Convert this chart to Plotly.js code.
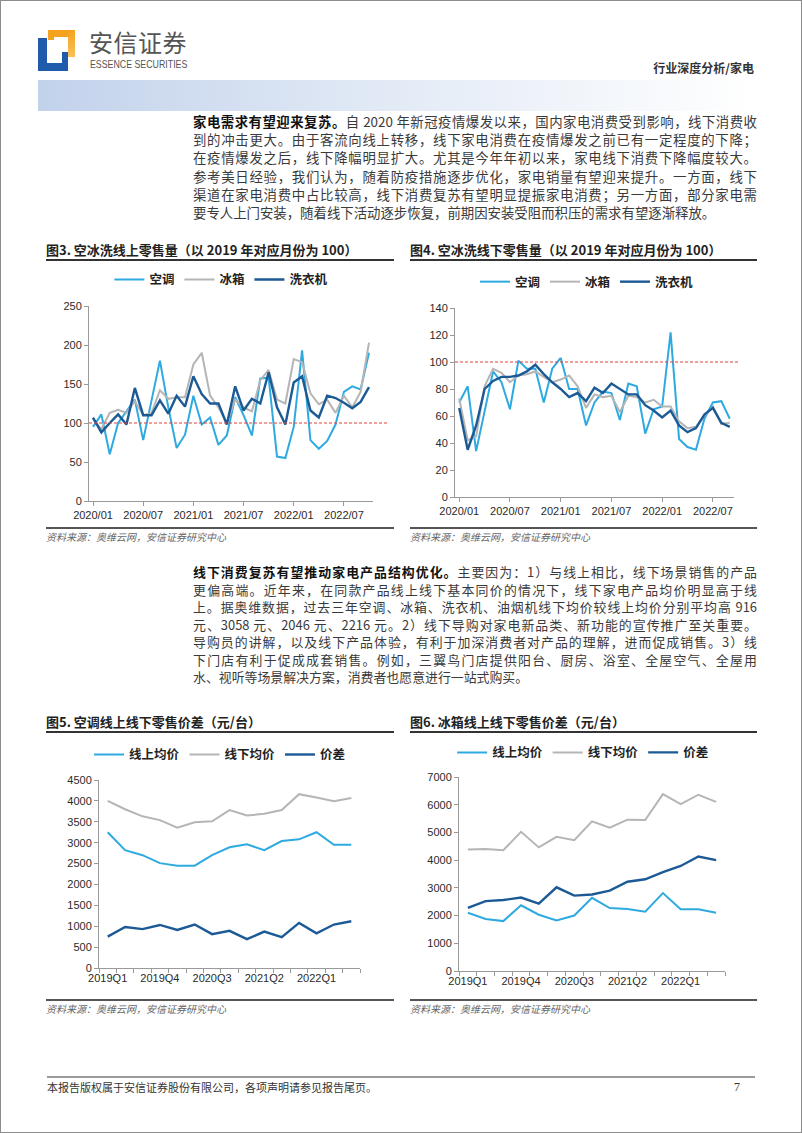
<!DOCTYPE html>
<html>
<head>
<meta charset="utf-8">
<script src="https://cdn.plot.ly/plotly-3.0.1.min.js"></script>
<style>
  html, body { margin: 0; padding: 0; background: #fff; }
  #page { position: relative; width: 802px; height: 1133px; overflow: hidden;
          font-family: "Noto Sans CJK SC", "Noto Sans", sans-serif; color: #333; }
  #frame { position: absolute; left: 0; top: 0; width: 800px; height: 1131px; border: 1px solid #8c8c8c; }
  .abs { position: absolute; }
  .ln { position: absolute; left: 193px; width: 564px; height: 18px; line-height: 18px; font-size: 13.4px;
        text-align: justify; text-align-last: justify; white-space: nowrap; color: #3a3a3a; }
  .p2 .ln { height: 17px; line-height: 17px; font-size: 12.9px; }
  .ln.last { text-align-last: left; }
  .ln b { color: #111; }
  .ctitle { position: absolute; height: 19px; line-height: 19px; font-size: 13px; font-weight: bold; color: #222;
            border-bottom: 2px solid #333; white-space: nowrap; }
  .src { position: absolute; height: 14px; border-top: 2px solid #555; font-size: 10px; font-style: italic;
         color: #666; line-height: 15px; }
  .chart { position: absolute; }
</style>
</head>
<body>
<div id="page">
  <div id="frame"></div>

  <!-- logo -->
  <div class="abs" style="left:48px;top:30px;width:27px;height:7px;background:#f5a21f"></div>
  <div class="abs" style="left:68px;top:30px;width:7px;height:27px;background:linear-gradient(#f5a21f,#f8c15a)"></div>
  <div class="abs" style="left:48px;top:30px;width:6px;height:10px;background:#f5a21f"></div>
  <div class="abs" style="left:38px;top:38px;width:9px;height:33px;background:#1f5baa"></div>
  <div class="abs" style="left:38px;top:63px;width:30px;height:8px;background:#1f5baa"></div>
  <div class="abs" style="left:62px;top:52px;width:6px;height:19px;background:#1f5baa"></div>
  <div class="abs" style="left:89px;top:29px;font-size:24px;line-height:26px;color:#555;letter-spacing:0.5px">安信证券</div>
  <div class="abs" style="left:90px;top:58px;font-size:11px;line-height:12px;color:#555;font-family:'Liberation Sans',sans-serif;transform:scaleX(0.8);transform-origin:0 0;white-space:nowrap">ESSENCE SECURITIES</div>
  <div class="abs" style="left:640px;width:114px;top:60px;font-size:12px;line-height:16px;font-weight:bold;color:#333;text-align:right">行业深度分析/家电</div>
  <div class="abs" style="left:38px;top:80px;width:719px;height:31px;background:linear-gradient(to right,#c2d2eb,#e6edf7 55%,#ffffff)"></div>

  <!-- paragraph 1 -->
  <div class="ln" style="top:112px"><b>家电需求有望迎来复苏。</b>自 2020 年新冠疫情爆发以来，国内家电消费受到影响，线下消费收</div>
  <div class="ln" style="top:130px">到的冲击更大。由于客流向线上转移，线下家电消费在疫情爆发之前已有一定程度的下降；</div>
  <div class="ln" style="top:148px">在疫情爆发之后，线下降幅明显扩大。尤其是今年年初以来，家电线下消费下降幅度较大。</div>
  <div class="ln" style="top:167px">参考美日经验，我们认为，随着防疫措施逐步优化，家电销量有望迎来提升。一方面，线下</div>
  <div class="ln" style="top:185px">渠道在家电消费中占比较高，线下消费复苏有望明显提振家电消费；另一方面，部分家电需</div>
  <div class="ln last" style="top:203px">要专人上门安装，随着线下活动逐步恢复，前期因安装受阻而积压的需求有望逐渐释放。</div>

  <!-- figure 3 / 4 -->
  <div class="ctitle" style="left:46px;top:240px;width:348px">图3. 空冰洗线上零售量（以 2019 年对应月份为 100）</div>
  <div class="ctitle" style="left:410px;top:240px;width:347px">图4. 空冰洗线下零售量（以 2019 年对应月份为 100）</div>
  <div id="fig3" class="chart" style="left:46px;top:265px"></div>
  <div id="fig4" class="chart" style="left:410px;top:265px"></div>
  <div class="src" style="left:46px;top:527px;width:348px">资料来源：奥维云网，安信证券研究中心</div>
  <div class="src" style="left:410px;top:527px;width:347px">资料来源：奥维云网，安信证券研究中心</div>

  <!-- paragraph 2 -->
  <div class="p2">
  <div class="ln" style="top:563px"><b>线下消费复苏有望推动家电产品结构优化。</b>主要因为：1）与线上相比，线下场景销售的产品</div>
  <div class="ln" style="top:580.5px">更偏高端。近年来，在同款产品线上线下基本同价的情况下，线下家电产品均价明显高于线</div>
  <div class="ln" style="top:598px">上。据奥维数据，过去三年空调、冰箱、洗衣机、油烟机线下均价较线上均价分别平均高 916</div>
  <div class="ln" style="top:615.5px">元、3058 元、2046 元、2216 元。2）线下导购对家电新品类、新功能的宣传推广至关重要。</div>
  <div class="ln" style="top:633px">导购员的讲解，以及线下产品体验，有利于加深消费者对产品的理解，进而促成销售。3）线</div>
  <div class="ln" style="top:650.5px">下门店有利于促成成套销售。例如，三翼鸟门店提供阳台、厨房、浴室、全屋空气、全屋用</div>
  <div class="ln last" style="top:668px">水、视听等场景解决方案，消费者也愿意进行一站式购买。</div>
  </div>

  <!-- figure 5 / 6 -->
  <div class="ctitle" style="left:46px;top:712px;width:348px">图5. 空调线上线下零售价差（元/台）</div>
  <div class="ctitle" style="left:410px;top:712px;width:347px">图6. 冰箱线上线下零售价差（元/台）</div>
  <div id="fig5" class="chart" style="left:46px;top:735px"></div>
  <div id="fig6" class="chart" style="left:410px;top:735px"></div>
  <div class="src" style="left:46px;top:999px;width:348px">资料来源：奥维云网，安信证券研究中心</div>
  <div class="src" style="left:410px;top:999px;width:347px">资料来源：奥维云网，安信证券研究中心</div>

  <!-- footer -->
  <div class="abs" style="left:47px;top:1076px;width:708px;height:0;border-top:2px solid #9a9a9a"></div>
  <div class="abs" style="left:47px;top:1080px;font-size:11px;line-height:15px;color:#333">本报告版权属于安信证券股份有限公司，各项声明请参见报告尾页。</div>
  <div class="abs" style="left:734px;top:1080px;font-size:12px;line-height:15px;color:#333;font-family:'Liberation Serif',serif">7</div>
</div>

<script>
// 月度数据 2020/01 - 2022/10（以2019年对应月份为100）
const MONTHS = ['2020/01','2020/02','2020/03','2020/04','2020/05','2020/06','2020/07','2020/08','2020/09','2020/10','2020/11','2020/12',
                '2021/01','2021/02','2021/03','2021/04','2021/05','2021/06','2021/07','2021/08','2021/09','2021/10','2021/11','2021/12',
                '2022/01','2022/02','2022/03','2022/04','2022/05','2022/06','2022/07','2022/08','2022/09','2022/10'];
const MONTH_TICKS = ['2020/01','2020/07','2021/01','2021/07','2022/01','2022/07'];

// 图3 线上
const ONLINE_AC     = [95,111,60,100,115,130,78,130,180,120,68,85,135,98,107,72,84,133,110,84,157,158,57,55,95,193,78,67,77,98,140,147,143,190];
const ONLINE_FRIDGE = [105,92,113,117,113,128,110,113,142,131,133,133,175,190,135,120,100,130,120,115,155,168,130,125,182,178,138,124,130,113,135,120,140,203];
const ONLINE_WASHER = [107,88,100,111,98,145,110,110,129,112,135,121,160,137,125,125,98,147,116,131,125,165,120,98,152,160,116,107,135,132,126,119,127,146];

// 图4 线下（到 2022/09）
const OFFLINE_AC     = [70,82,34,63,93,85,65,101,95,95,70,95,103,80,80,53,70,78,77,57,84,82,47,65,67,122,43,37,35,58,70,71,58];
const OFFLINE_FRIDGE = [73,42,45,82,95,92,85,90,91,93,89,85,87,90,82,66,76,74,75,63,75,74,70,72,67,67,56,51,52,60,67,54,55];
const OFFLINE_WASHER = [66,35,53,80,86,89,89,90,93,98,91,85,80,74,77,71,81,77,84,80,76,76,68,64,59,64,53,48,51,61,66,55,52];

const BASELINE = 100;

// 季度价差 2019Q1 - 2022Q3（元/台）
const QUARTERS = ['2019Q1','2019Q2','2019Q3','2019Q4','2020Q1','2020Q2','2020Q3','2020Q4',
                  '2021Q1','2021Q2','2021Q3','2021Q4','2022Q1','2022Q2','2022Q3'];
const QUARTER_LABELS = ['2019Q1','','','2019Q4','','','2020Q3','','','2021Q2','','','2022Q1','',''];

const AC_ONLINE_PRICE  = [3250,2820,2700,2510,2450,2450,2700,2890,2960,2820,3040,3080,3250,2950,2950];
const AC_OFFLINE_PRICE = [4000,3800,3630,3540,3360,3490,3510,3780,3650,3690,3780,4160,4080,3990,4070];
const AC_GAP           = [750,980,930,1030,910,1040,810,890,690,870,740,1080,830,1040,1120];

const FR_ONLINE_PRICE  = [2100,1880,1800,2370,2030,1820,2000,2640,2270,2240,2140,2810,2230,2230,2100];
const FR_OFFLINE_PRICE = [4380,4400,4360,5020,4460,4840,4720,5400,5170,5460,5450,6380,6020,6360,6100];
const FR_GAP           = [2280,2520,2560,2650,2430,3020,2720,2760,2900,3220,3310,3570,3790,4130,4000];

const C_LIGHT = '#2eaae1';
const C_GRAY  = '#b5b5b5';
const C_DARK  = '#1c5a96';
const AXIS = '#9a9a9a';
const TICKFONT = { family: 'Liberation Sans, Arial, sans-serif', size: 11, color: '#2a2a2a' };
const LEGFONT  = { family: 'Noto Sans CJK SC, sans-serif', size: 12.5, color: '#222', weight: 'bold' };

// 画一张折线图；图例用 container 坐标，不挤占绘图区
function drawLines(elId, cats, series, o) {
  const traces = series.map(s => ({
    x: cats, y: s.values, name: s.name, type: 'scatter', mode: 'lines',
    line: { color: s.color, width: s.width || 2 }, hoverinfo: 'skip',
  }));
  const layout = {
    width: o.w, height: o.h,
    margin: o.margin,
    showlegend: true,
    legend: { orientation: 'h', xref: 'container', yref: 'container', x: o.legX, xanchor: 'center',
              y: o.legY, yanchor: 'middle', font: LEGFONT, itemwidth: 30,
              bgcolor: 'rgba(0,0,0,0)', traceorder: 'normal' },
    xaxis: {
      type: 'category', range: o.xRange, tickmode: 'array', tickvals: o.tickvals, ticktext: o.ticktext,
      ticks: 'outside', ticklen: 4, tickcolor: AXIS, showline: true, linecolor: AXIS, linewidth: 1,
      showgrid: false, zeroline: false, tickfont: TICKFONT, tickangle: 0, tickson: o.tickson || 'labels',
      automargin: false,
    },
    yaxis: {
      range: o.yRange, tick0: 0, dtick: o.dtick, ticks: 'outside', ticklen: 4, tickcolor: AXIS,
      showline: true, linecolor: AXIS, linewidth: 1, showgrid: false, zeroline: false, tickfont: TICKFONT,
      automargin: false,
    },
    shapes: o.shapes || [],
    plot_bgcolor: '#ffffff',
    paper_bgcolor: 'rgba(0,0,0,0)',
  };
  Plotly.newPlot(elId, traces, layout, { displayModeBar: false, staticPlot: true });
}

function baseLine(x1) {
  return [{ type: 'line', xref: 'paper', yref: 'y', x0: 0, x1: x1, y0: BASELINE, y1: BASELINE,
            line: { color: '#e0403a', width: 1, dash: '3px,2px' } }];
}

const volLegend = (ac, fr, wa) => [
  { name: '空调', values: ac, color: C_LIGHT },
  { name: '冰箱', values: fr, color: C_GRAY },
  { name: '洗衣机', values: wa, color: C_DARK, width: 2.4 },
];
const priceLegend = (on, off, gap) => [
  { name: '线上均价', values: on, color: C_LIGHT },
  { name: '线下均价', values: off, color: C_GRAY },
  { name: '价差', values: gap, color: C_DARK, width: 2.4 },
];

drawLines('fig3', MONTHS, volLegend(ONLINE_AC, ONLINE_FRIDGE, ONLINE_WASHER), {
  w: 348, h: 262, margin: { l: 43, r: 21, t: 41, b: 26 },
  legX: 0.504, legY: 0.943, xRange: [-0.48, 33.48], yRange: [0, 250], dtick: 50,
  tickvals: MONTH_TICKS, ticktext: MONTH_TICKS, shapes: baseLine(1.053),
});

drawLines('fig4', MONTHS.slice(0, 33), volLegend(OFFLINE_AC, OFFLINE_FRIDGE, OFFLINE_WASHER), {
  w: 347, h: 262, margin: { l: 45, r: 23, t: 43, b: 30 },
  legX: 0.51, legY: 0.935, xRange: [-0.5, 32.5], yRange: [0, 140], dtick: 20,
  tickvals: MONTH_TICKS, ticktext: MONTH_TICKS, shapes: baseLine(1.02),
});

drawLines('fig5', QUARTERS, priceLegend(AC_ONLINE_PRICE, AC_OFFLINE_PRICE, AC_GAP), {
  w: 348, h: 265, margin: { l: 53, r: 34, t: 45, b: 32 },
  legX: 0.5, legY: 0.925, xRange: [-0.5, 14.5], yRange: [0, 4500], dtick: 500,
  tickvals: QUARTERS, ticktext: QUARTER_LABELS, tickson: 'boundaries',
});

drawLines('fig6', QUARTERS, priceLegend(FR_ONLINE_PRICE, FR_OFFLINE_PRICE, FR_GAP), {
  w: 347, h: 265, margin: { l: 49, r: 32, t: 42, b: 29 },
  legX: 0.499, legY: 0.933, xRange: [-0.5, 14.5], yRange: [0, 7000], dtick: 1000,
  tickvals: QUARTERS, ticktext: QUARTER_LABELS, tickson: 'boundaries',
});
</script>
</body>
</html>
